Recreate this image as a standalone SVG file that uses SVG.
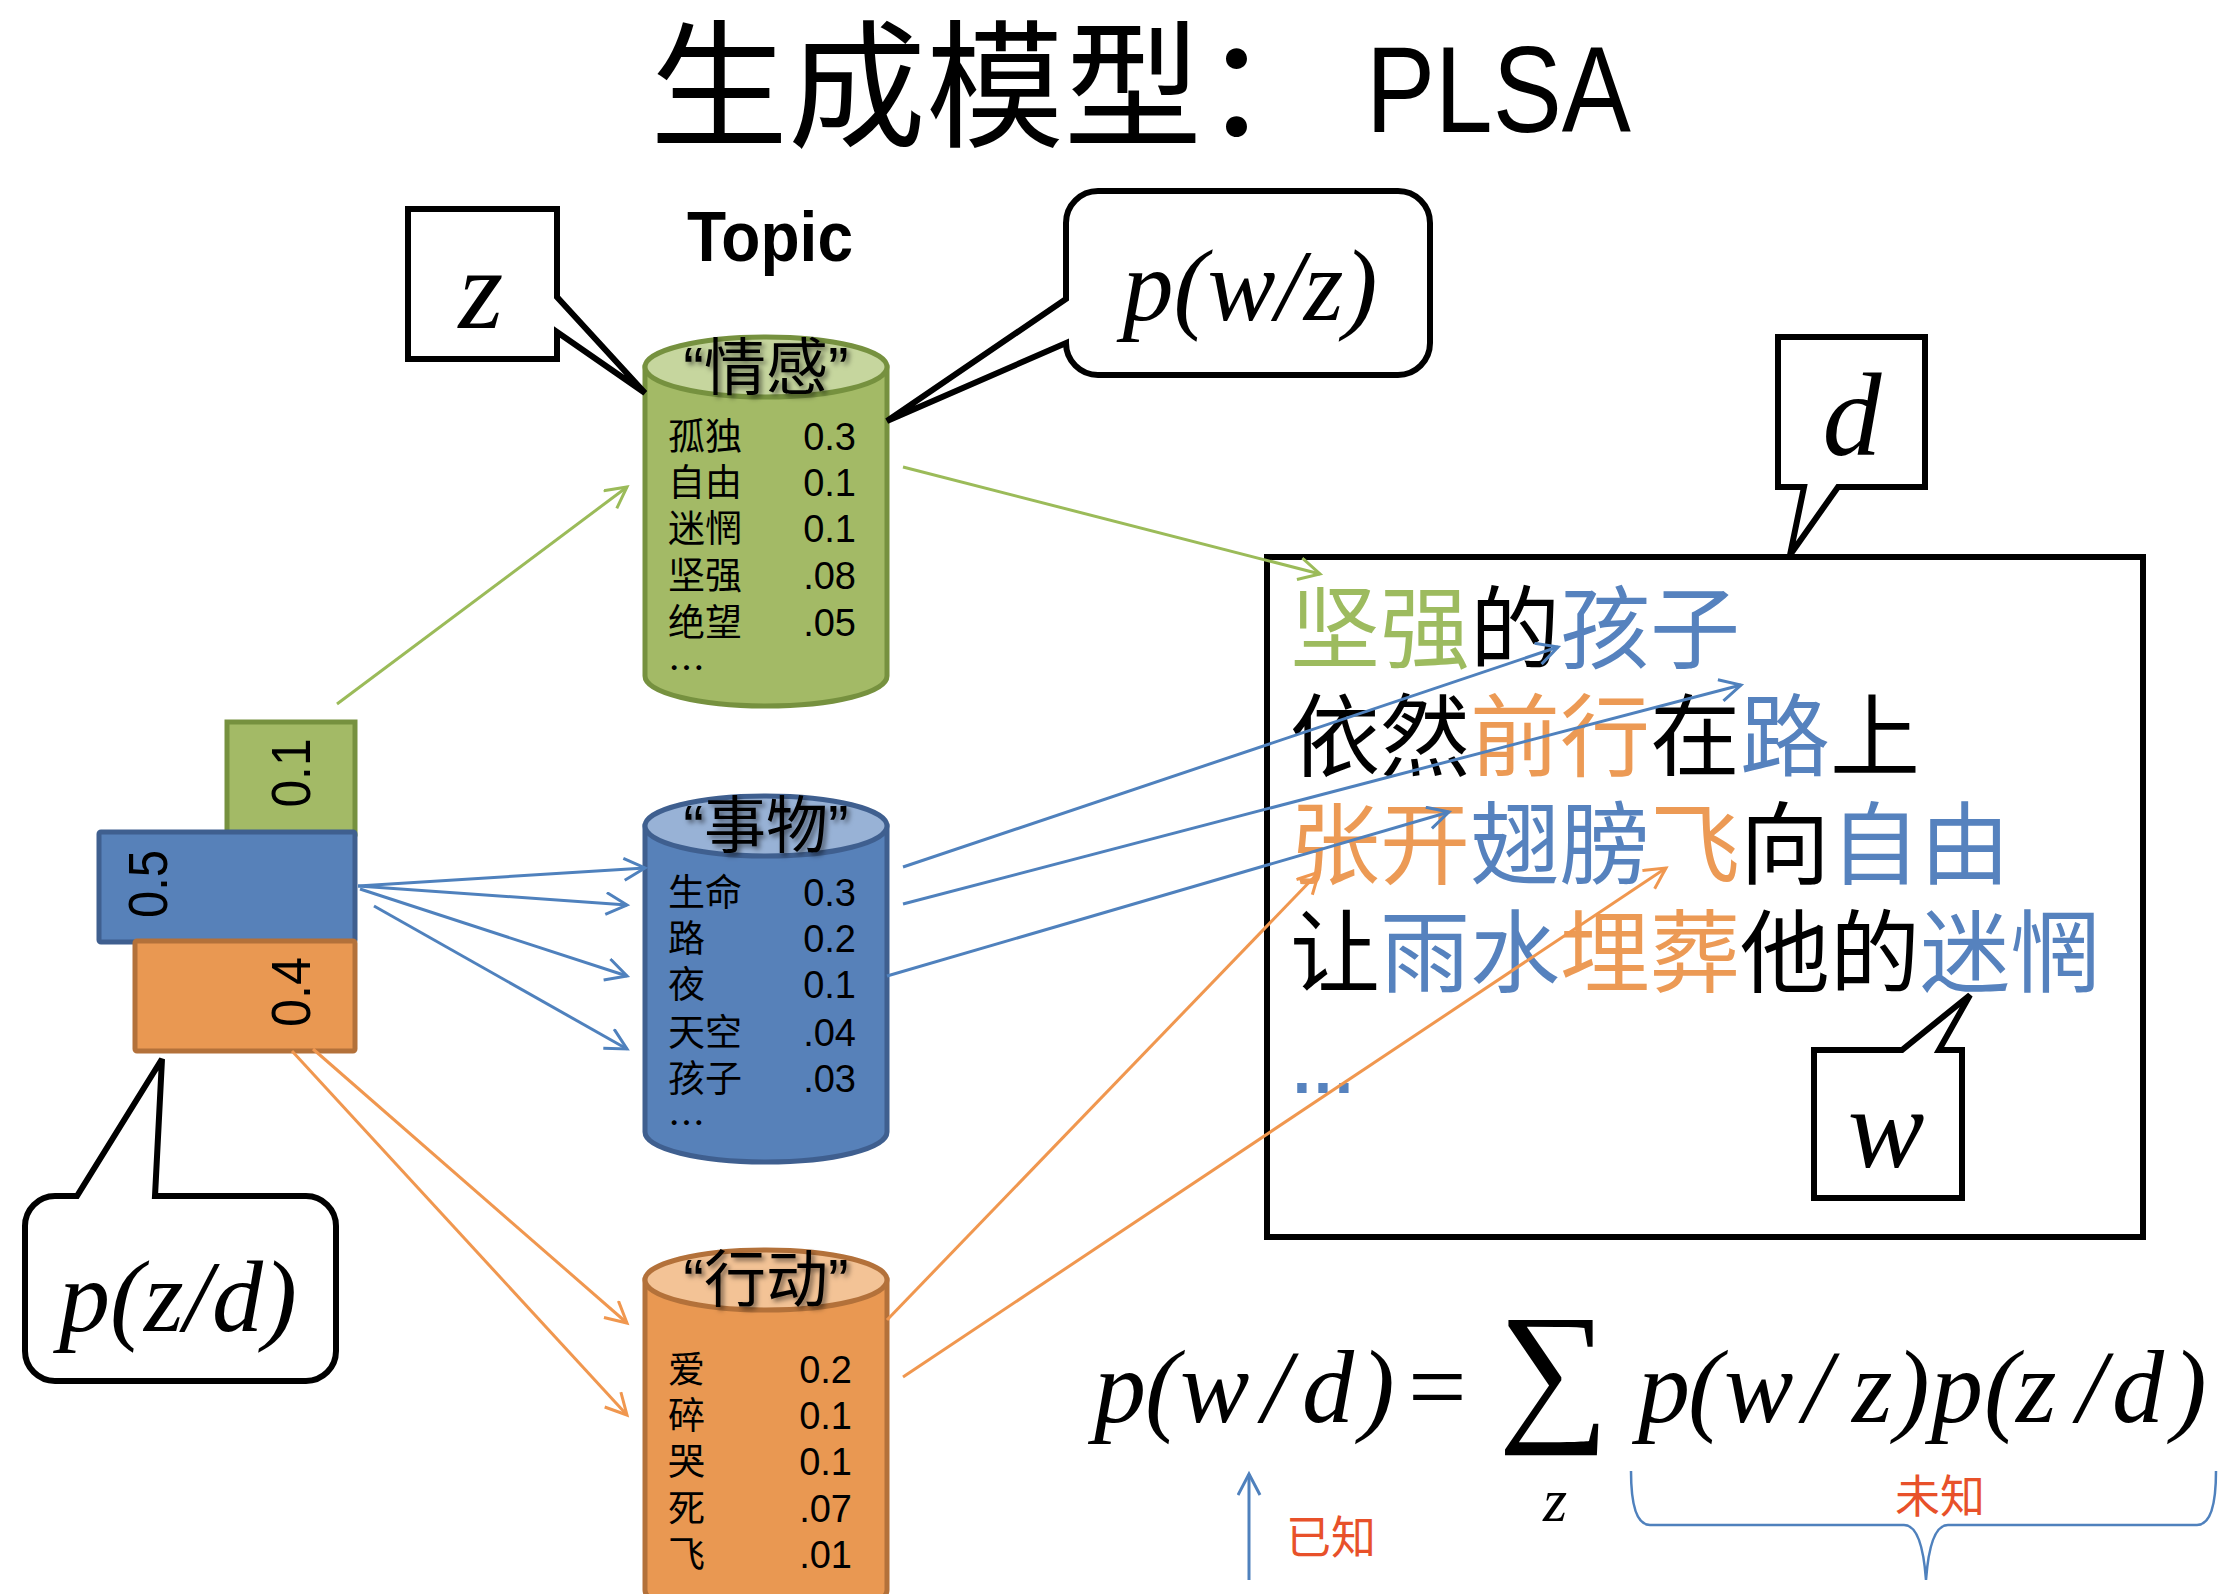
<svg xmlns="http://www.w3.org/2000/svg" width="2234" height="1594" viewBox="0 0 2234 1594">
<defs>
<style>
.cjk{font-family:'Noto Sans CJK SC',sans-serif}
.item{font-family:'Noto Sans CJK SC',sans-serif;font-size:37px;fill:#000}
.num{font-family:'Liberation Sans',sans-serif;font-size:38px;text-anchor:end;fill:#000}
.math{font-family:'Liberation Serif','DejaVu Serif',serif;font-style:italic;fill:#000}
.co{fill:#fff;stroke:#000;stroke-width:6;stroke-linejoin:miter}
.lbl{font-family:'Liberation Sans','Noto Sans CJK SC',sans-serif;font-size:62px;text-anchor:middle;fill:#000;filter:url(#sh)}
.bartxt{font-family:'Liberation Sans',sans-serif;font-size:55px;text-anchor:middle;fill:#000}
.tg{fill:#9DBB5F}.tb{fill:#5682BE}.to{fill:#EC9A55}.tk{fill:#000}
.cg{fill:none;stroke:#9BBB59;stroke-width:3;marker-end:url(#ag)}
.cb{fill:none;stroke:#4F81BD;stroke-width:3;marker-end:url(#ab)}
.cor{fill:none;stroke:#F0974F;stroke-width:3;marker-end:url(#ao)}
.red{font-family:'Noto Sans CJK SC',sans-serif;font-size:45px;fill:#E8512A}
</style>
<filter id="sh" x="-20%" y="-30%" width="150%" height="170%">
<feDropShadow dx="3" dy="3" stdDeviation="2.5" flood-color="#000" flood-opacity="0.5"/>
</filter>
<marker id="ag" markerUnits="userSpaceOnUse" markerWidth="30" markerHeight="30" refX="23" refY="12" orient="auto"><path d="M2,1 L23,12 L2,23" fill="none" stroke="#9BBB59" stroke-width="3"/></marker>
<marker id="ab" markerUnits="userSpaceOnUse" markerWidth="30" markerHeight="30" refX="23" refY="12" orient="auto"><path d="M2,1 L23,12 L2,23" fill="none" stroke="#4F81BD" stroke-width="3"/></marker>
<marker id="ao" markerUnits="userSpaceOnUse" markerWidth="30" markerHeight="30" refX="23" refY="12" orient="auto"><path d="M2,1 L23,12 L2,23" fill="none" stroke="#F0974F" stroke-width="3"/></marker>
</defs>
<rect width="2234" height="1594" fill="#fff"/>

<g id="title">
<text x="650" y="136" class="cjk" font-size="138">生成模型：</text>
<text x="1366" y="132" font-family="'Liberation Sans',sans-serif" font-size="122" textLength="265" lengthAdjust="spacingAndGlyphs">PLSA</text>
</g>

<g id="topic-heading">
<text x="687" y="261" font-family="'Liberation Sans',sans-serif" font-weight="bold" font-size="70" textLength="166" lengthAdjust="spacingAndGlyphs">Topic</text>
</g>

<g id="cyl-emotion">
<path d="M645,367 V676 A121,30 0 0 0 887,676 V367 Z" fill="#A3BA66" stroke="#76913F" stroke-width="5"/>
<ellipse cx="766" cy="367" rx="121" ry="30" fill="#C6D69E" stroke="#76913F" stroke-width="5"/>
<text x="766" y="390" class="lbl">“情感”</text>
<text x="668" y="450" class="item">孤独</text><text x="856" y="450" class="num">0.3</text>
<text x="668" y="496" class="item">自由</text><text x="856" y="496" class="num">0.1</text>
<text x="668" y="542" class="item">迷惘</text><text x="856" y="542" class="num">0.1</text>
<text x="668" y="589" class="item">坚强</text><text x="856" y="589" class="num">.08</text>
<text x="668" y="636" class="item">绝望</text><text x="856" y="636" class="num">.05</text>
<text x="668" y="682" class="item">…</text>
</g>

<g id="cyl-things">
<path d="M645,826 V1132 A121,30 0 0 0 887,1132 V826 Z" fill="#5781B9" stroke="#3F5F8F" stroke-width="5"/>
<ellipse cx="766" cy="826" rx="121" ry="30" fill="#98B2D6" stroke="#3F5F8F" stroke-width="5"/>
<text x="766" y="848" class="lbl">“事物”</text>
<text x="668" y="906" class="item">生命</text><text x="856" y="906" class="num">0.3</text>
<text x="668" y="952" class="item">路</text><text x="856" y="952" class="num">0.2</text>
<text x="668" y="998" class="item">夜</text><text x="856" y="998" class="num">0.1</text>
<text x="668" y="1046" class="item">天空</text><text x="856" y="1046" class="num">.04</text>
<text x="668" y="1092" class="item">孩子</text><text x="856" y="1092" class="num">.03</text>
<text x="668" y="1137" class="item">…</text>
</g>

<g id="cyl-action">
<path d="M645,1280 V1590 A121,30 0 0 0 887,1590 V1280 Z" fill="#E99852" stroke="#B3713A" stroke-width="5"/>
<ellipse cx="766" cy="1280" rx="121" ry="30" fill="#F3C396" stroke="#B3713A" stroke-width="5"/>
<text x="766" y="1302" class="lbl">“行动”</text>
<text x="668" y="1383" class="item">爱</text><text x="852" y="1383" class="num">0.2</text>
<text x="668" y="1429" class="item">碎</text><text x="852" y="1429" class="num">0.1</text>
<text x="668" y="1475" class="item">哭</text><text x="852" y="1475" class="num">0.1</text>
<text x="668" y="1522" class="item">死</text><text x="852" y="1522" class="num">.07</text>
<text x="668" y="1568" class="item">飞</text><text x="852" y="1568" class="num">.01</text>
</g>

<g id="bar-01">
<rect x="227" y="722" width="128" height="112" fill="#A3BA66" stroke="#76913F" stroke-width="5"/>
<text transform="translate(310,773) rotate(-90)" class="bartxt" textLength="69" lengthAdjust="spacingAndGlyphs">0.1</text>
</g>
<g id="bar-05">
<rect x="99" y="832" width="256" height="110" rx="2" fill="#5781B9" stroke="#3F5F8F" stroke-width="5"/>
<text transform="translate(167,884) rotate(-90)" class="bartxt" textLength="68" lengthAdjust="spacingAndGlyphs">0.5</text>
</g>
<g id="bar-04">
<rect x="135" y="941" width="220" height="110" rx="2" fill="#E99852" stroke="#B3713A" stroke-width="5"/>
<text transform="translate(310,992) rotate(-90)" class="bartxt" textLength="70" lengthAdjust="spacingAndGlyphs">0.4</text>
</g>

<g id="document">
<rect x="1267" y="557" width="876" height="680" fill="#fff" stroke="#000" stroke-width="6"/>
<text x="1290" y="661" class="cjk" font-size="90"><tspan class="tg">坚强</tspan><tspan class="tk">的</tspan><tspan class="tb">孩子</tspan></text>
<text x="1290" y="769" class="cjk" font-size="90"><tspan class="tk">依然</tspan><tspan class="to">前行</tspan><tspan class="tk">在</tspan><tspan class="tb">路</tspan><tspan class="tk">上</tspan></text>
<text x="1290" y="877" class="cjk" font-size="90"><tspan class="to">张开</tspan><tspan class="tb">翅膀</tspan><tspan class="to">飞</tspan><tspan class="tk">向</tspan><tspan class="tb">自由</tspan></text>
<text x="1290" y="985" class="cjk" font-size="90"><tspan class="tk">让</tspan><tspan class="tb">雨水</tspan><tspan class="to">埋葬</tspan><tspan class="tk">他的</tspan><tspan class="tb">迷惘</tspan></text>
<text x="1290" y="1093" font-family="'Liberation Sans',sans-serif" font-weight="bold" font-size="66" class="tb">…</text>
</g>

<g id="callout-z">
<path class="co" d="M408,209 H557 V297 L645,393 L557,332 V359 H408 Z"/>
<text x="481" y="328" class="math" font-size="115" text-anchor="middle">z</text>
</g>

<g id="callout-pwz">
<path class="co" d="M1098,191 H1398 A32,32 0 0 1 1430,223 V343 A32,32 0 0 1 1398,375 H1098 A32,32 0 0 1 1066,343 L887,421 L1066,299 V223 A32,32 0 0 1 1098,191 Z"/>
<text x="1250" y="320" class="math" font-size="102" text-anchor="middle">p(w/z)</text>
</g>

<g id="callout-d">
<path class="co" d="M1778,337 H1925 V487 H1838 L1790,555 L1804,487 H1778 Z"/>
<text x="1852" y="455" class="math" font-size="118" text-anchor="middle">d</text>
</g>

<g id="callout-w">
<path class="co" d="M1814,1050 H1902 L1970,995 L1939,1050 H1962 V1198 H1814 Z"/>
<text x="1886" y="1167" class="math" font-size="115" text-anchor="middle">w</text>
</g>

<g id="callout-pzd">
<path class="co" d="M55,1196 H77 L162,1059 L155,1196 H306 A30,30 0 0 1 336,1226 V1351 A30,30 0 0 1 306,1381 H55 A30,30 0 0 1 25,1351 V1226 A30,30 0 0 1 55,1196 Z"/>
<text x="178" y="1331" class="math" font-size="102" text-anchor="middle">p(z/d)</text>
</g>

<g id="formula">
<text y="1422" class="math" font-size="104"><tspan x="1094">p</tspan><tspan x="1145">(</tspan><tspan x="1180">w</tspan><tspan x="1262">/</tspan><tspan x="1302">d</tspan><tspan x="1360">)</tspan><tspan x="1408" font-style="normal">=</tspan><tspan x="1498" font-style="normal" font-size="156">∑</tspan><tspan x="1638">p</tspan><tspan x="1688">(</tspan><tspan x="1724">w</tspan><tspan x="1803">/</tspan><tspan x="1852">z</tspan><tspan x="1895">)</tspan><tspan x="1931">p</tspan><tspan x="1984">(</tspan><tspan x="2016">z</tspan><tspan x="2077">/</tspan><tspan x="2112">d</tspan><tspan x="2172">)</tspan></text>
<text x="1555" y="1521" class="math" font-size="62" text-anchor="middle">z</text>
</g>

<g id="known">
<text x="1286" y="1554" class="red">已知</text>
</g>
<g id="unknown">
<path d="M1631,1471 Q1631,1525 1650,1525 L1904,1525 Q1922,1525 1926,1580 Q1930,1525 1948,1525 L2197,1525 Q2216,1525 2216,1471" fill="none" stroke="#4F81BD" stroke-width="2.5"/>
<text x="1940" y="1513" class="red" text-anchor="middle">未知</text>
</g>

<g id="connectors">
<line class="cb" x1="1249" y1="1580" x2="1249" y2="1474"/>
<line class="cg" x1="337" y1="704" x2="627" y2="487"/>
<line class="cg" x1="903" y1="467" x2="1320" y2="574"/>
<line class="cb" x1="358" y1="886" x2="645" y2="868"/>
<line class="cb" x1="358" y1="886" x2="627" y2="905"/>
<line class="cb" x1="360" y1="889" x2="627" y2="976"/>
<line class="cb" x1="374" y1="906" x2="627" y2="1049"/>
<line class="cb" x1="903" y1="867" x2="1558" y2="647"/>
<line class="cb" x1="903" y1="904" x2="1741" y2="685"/>
<line class="cb" x1="887" y1="976" x2="1449" y2="812"/>
<line class="cor" x1="313" y1="1049" x2="627" y2="1323"/>
<line class="cor" x1="292" y1="1051" x2="627" y2="1415"/>
<line class="cor" x1="887" y1="1320" x2="1319" y2="872"/>
<line class="cor" x1="903" y1="1377" x2="1666" y2="868"/>
</g>
</svg>
